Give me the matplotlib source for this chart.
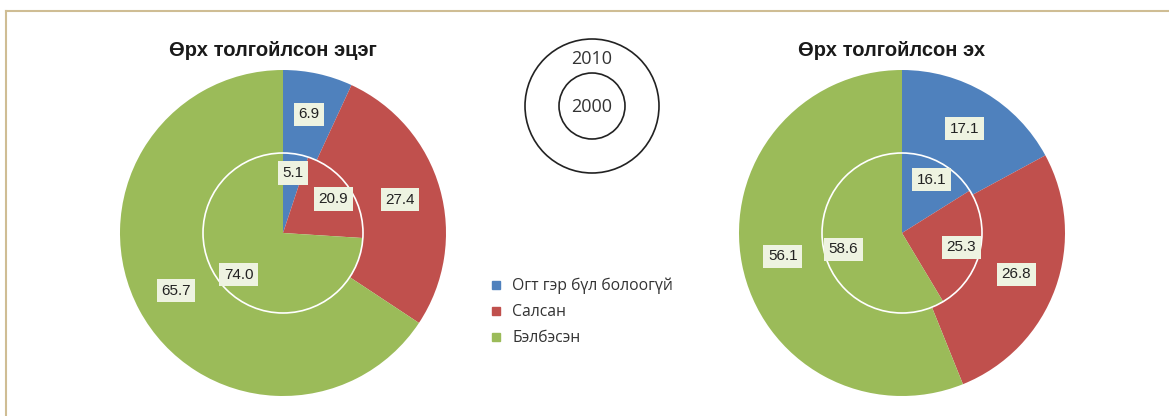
import numpy as np
import matplotlib
matplotlib.use("Agg")
import matplotlib.pyplot as plt
from matplotlib.patches import Circle
from matplotlib.lines import Line2D

# data
categories = ["Огт гэр бүл болоогүй", "Салсан", "Бэлбэсэн"]
father_2010 = [6.9, 27.4, 65.7]
father_2000 = [5.1, 20.9, 74.0]
mother_2010 = [17.1, 26.8, 56.1]
mother_2000 = [16.1, 25.3, 58.6]
titles = ["Өрх толгойлсон эцэг", "Өрх толгойлсон эх"]
years = ["2010", "2000"]

colors = ["#4f81bd", "#c0504d", "#9bbb59"]
W, H = 1169, 416

fig = plt.figure(figsize=(W / 100, H / 100), dpi=100)
ax = fig.add_axes([0, 0, 1, 1])

R_OUT, R_IN = 163, 80
box = dict(boxstyle="square,pad=0.3", fc="#eef3e1", ec="none")


def donut(cx, cy, outer, inner, title):
    c = (cx, H - cy)
    _, _, t1 = ax.pie(outer, colors=colors, startangle=90, counterclock=False,
                      radius=R_OUT, center=c, autopct=lambda p: f"{p:.1f}",
                      pctdistance=(R_OUT + R_IN) / 2 / R_OUT,
                      wedgeprops=dict(width=R_OUT - R_IN, linewidth=0))
    _, _, t2 = ax.pie(inner, colors=colors, startangle=90, counterclock=False,
                      radius=R_IN, center=c, autopct=lambda p: f"{p:.1f}",
                      pctdistance=0.76, wedgeprops=dict(linewidth=0))
    for t in list(t1) + list(t2):
        t.set_fontsize(11)
        t.set_family("Liberation Sans")
        t.set_color("#222222")
        t.set_bbox(box)
        t.set_zorder(5)
    ax.add_patch(Circle(c, R_IN, fill=False, ec="white", lw=1.2, zorder=4))
    ax.text(cx - 10, H - 50, title, ha="center", va="center", fontsize=14.5,
            fontweight="bold", family="Liberation Sans", color="#1a1a1a")


donut(283, 233, father_2010, father_2000, titles[0])
donut(902, 233, mother_2010, mother_2000, titles[1])

# year key
kc = (592, H - 106)
ax.add_patch(Circle(kc, 67, fill=False, ec="#222222", lw=1.2))
ax.add_patch(Circle(kc, 33, fill=False, ec="#222222", lw=1.2))
ax.text(592, H - 59, years[0], ha="center", va="center", fontsize=13,
        family="Open Sans", color="#333333")
ax.text(592, H - 107, years[1], ha="center", va="center", fontsize=13,
        family="Open Sans", color="#333333")

handles = [Line2D([], [], marker="s", ls="none", ms=6, mfc=col, mec=col)
           for col in colors]
leg = ax.legend(handles, categories, loc="center left",
                bbox_to_anchor=(480 / W, 1 - 312 / H), frameon=False,
                prop=dict(family="Open Sans", size=11.3), handlelength=1.0,
                handletextpad=0.55, labelspacing=0.65, borderpad=0)
for t in leg.get_texts():
    t.set_color("#333333")

ax.set_xlim(0, W)
ax.set_ylim(0, H)
ax.set_aspect("equal")
ax.axis("off")

# frame lines
fig.add_artist(Line2D([6 / W, 1], [1 - 11 / H, 1 - 11 / H], color="#cfbd94", lw=1.5))
fig.add_artist(Line2D([6 / W, 6 / W], [0, 1 - 11 / H], color="#cfbd94", lw=1.5))

fig.savefig("out.png", dpi=100)
